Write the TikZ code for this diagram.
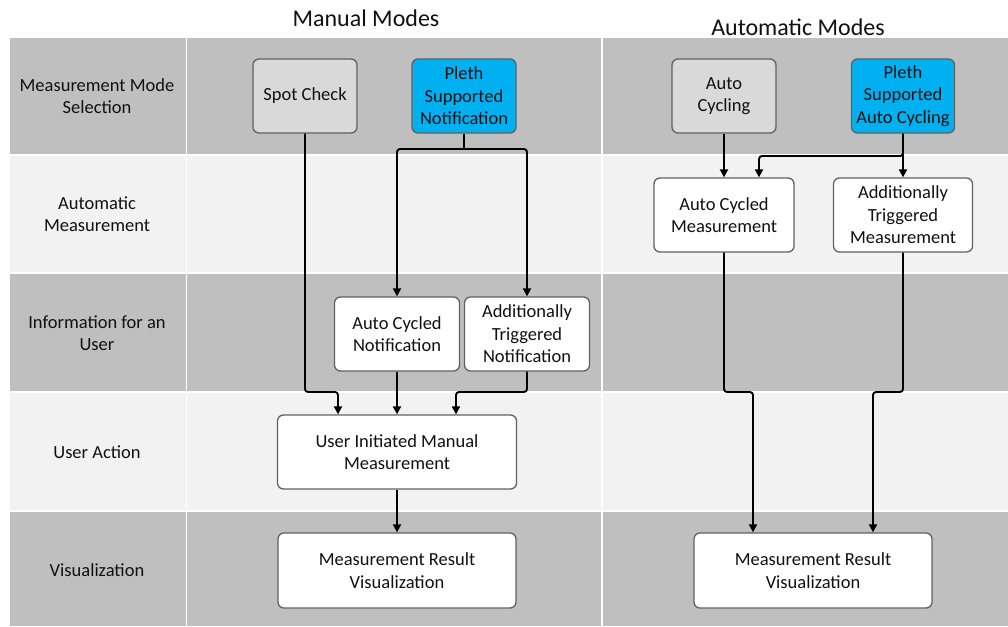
\documentclass[tikz,border=0pt]{standalone}
\usepackage{fontspec}
\setmainfont{Carlito}
\usetikzlibrary{arrows.meta}
\definecolor{bandDark}{HTML}{BFBFBF}
\definecolor{bandLight}{HTML}{F2F2F2}
\definecolor{boxGrey}{HTML}{D9D9D9}
\definecolor{boxBlue}{HTML}{00B0F0}
\definecolor{boxEdge}{HTML}{616161}
\definecolor{ink}{HTML}{111111}
\tikzset{
  cell/.style={draw=white, line width=1.5pt},
  rowlabel/.style={text=ink, align=center, font=\fontsize{18.5}{22.5}\selectfont},
  title/.style={text=ink, font=\fontsize{24}{28}\selectfont},
  box/.style={draw=boxEdge, line width=1.3pt, rounded corners=6pt, fill=white,
    text=ink, align=center, inner sep=2pt, font=\fontsize{18.5}{22.5}\selectfont,
    minimum height=74pt},
  greybox/.style={box, fill=boxGrey},
  bluebox/.style={box, fill=boxBlue},
  wire/.style={draw=black, line width=1.9pt, rounded corners=3pt},
  conn/.style={wire, -{Triangle[length=8pt,width=8pt]}},
}
\begin{document}
\begin{tikzpicture}[x=1pt, y=-1pt]
\useasboundingbox (0,0) rectangle (1008,626);

% swim-lane grid: label column, manual column, automatic column
\foreach \ya/\yb/\col in {37/155/bandDark, 155/273/bandLight, 273/392/bandDark,
                          392/511/bandLight, 511/627/bandDark}{
  \fill[\col] (9,\ya) rectangle (1010,\yb);
  \draw[cell] (9,\ya) rectangle (186.5,\yb);
  \draw[cell] (186.5,\ya) rectangle (602,\yb);
  \draw[cell] (602,\ya) rectangle (1012,\yb);
}

% column titles
\node[title] (tman) at (366,18) {Manual Modes};
\node[title] (tauto) at (798,27) {Automatic Modes};

% row labels
\node[rowlabel] (r1) at (97,96) {Measurement Mode\\Selection};
\node[rowlabel] (r2) at (97,214) {Automatic\\Measurement};
\node[rowlabel] (r3) at (97,333) {Information for an\\User};
\node[rowlabel] (r4) at (97,452) {User Action};
\node[rowlabel] (r5) at (97,570) {Visualization};

% manual modes
\node[greybox, minimum width=104pt] (spot) at (305,96) {Spot Check};
\node[bluebox, minimum width=104pt] (plethN) at (464,96) {Pleth\\Supported\\Notification};
\node[box, minimum width=125pt] (acn) at (397,334) {Auto Cycled\\Notification};
\node[box, minimum width=125pt] (atn) at (527,334) {Additionally\\Triggered\\Notification};
\node[box, minimum width=239pt] (user) at (397,452) {User Initiated Manual\\Measurement};
\node[box, minimum width=238pt, minimum height=75pt] (vis1) at (397,570.5) {Measurement Result\\Visualization};

% automatic modes
\node[greybox, minimum width=104pt] (autoc) at (724,96) {Auto\\Cycling};
\node[bluebox, minimum width=103pt] (plethA) at (903,96) {Pleth\\Supported\\Auto Cycling};
\node[box, minimum width=140pt] (acm) at (724,215) {Auto Cycled\\Measurement};
\node[box, minimum width=139pt] (atm) at (903,215) {Additionally\\Triggered\\Measurement};
\node[box, minimum width=238pt, minimum height=75pt] (vis2) at (813,570.5) {Measurement Result\\Visualization};

% bend points
\coordinate (bN) at (464,149);
\coordinate (j1) at (338,392);
\coordinate (j2) at (456,392);
\coordinate (j3) at (759,156);
\coordinate (j4) at (753,392);
\coordinate (j5) at (873,392);

% manual connectors
\draw[wire] (plethN.south) -- (bN);
\draw[conn] (bN) -| (acn.north);
\draw[conn] (bN) -| (atn.north);
\draw[conn] (spot.south) |- (j1) -- (j1 |- user.north);
\draw[conn] (acn.south) -- (acn.south |- user.north);
\draw[conn] (atn.south) |- (j2) -- (j2 |- user.north);
\draw[conn] (user.south) -- (vis1.north);

% automatic connectors
\draw[conn] (autoc.south) -- (acm.north);
\draw[conn] (plethA.south) |- (j3) -- (j3 |- acm.north);
\draw[conn] (plethA.south) -- (atm.north);
\draw[conn] (acm.south) |- (j4) -- (j4 |- vis2.north);
\draw[conn] (atm.south) |- (j5) -- (j5 |- vis2.north);
\end{tikzpicture}
\end{document}
